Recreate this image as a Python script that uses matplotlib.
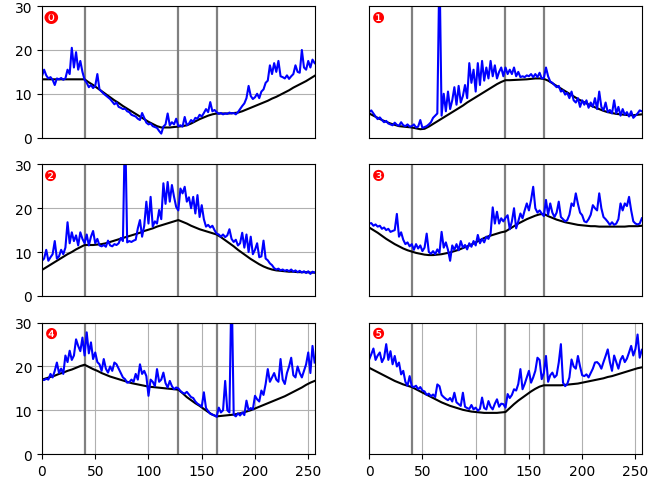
import matplotlib.pyplot as plt
import numpy as np

# sample positions: measured series every 2 steps, reference curves every 4
x_meas = np.arange(0, 257, 2)
x_ref = np.arange(0, 257, 4)

meas_0 = [14.0, 15.5, 14.2, 13.5, 13.8, 13.2, 12.0, 13.5, 13.3, 13.6,
          13.2, 13.5, 15.5, 14.5, 20.5, 16.0, 19.5, 15.5, 17.5, 15.0,
          13.2, 12.5, 11.5, 12.0, 11.3, 11.8, 14.5, 11.0, 10.5, 10.0,
          9.6, 9.2, 8.8, 8.2, 7.6, 8.0, 7.0, 6.8, 6.5, 6.6,
          6.0, 5.8, 5.2, 5.0, 4.8, 4.3, 4.0, 5.6, 4.5, 3.4,
          3.0, 3.2, 2.6, 2.4, 2.2, 1.5, 0.9, 2.5, 3.0, 5.5,
          2.8, 3.5, 3.0, 4.3, 2.6, 2.8, 2.5, 4.7, 2.8, 3.2,
          4.0, 3.6, 4.5, 4.3, 5.2, 4.8, 5.6, 6.5, 5.8, 8.1,
          6.0, 6.3, 5.8, 5.4, 5.6, 5.3, 5.5, 5.4, 5.7, 5.5,
          5.6, 5.3, 5.8, 6.5, 7.2, 7.8, 9.0, 11.8, 9.5, 8.8,
          9.2, 10.0, 9.0, 10.5, 11.0, 12.5, 13.0, 16.5, 14.5, 17.0,
          15.0, 17.5, 14.0, 13.8, 13.5, 14.2, 13.4, 14.0, 14.5, 16.5,
          15.0, 14.8, 20.0, 16.0, 15.5, 17.5, 16.0, 17.8, 17.0]
ref_0 = [13.3, 13.3, 13.3, 13.3, 13.3, 13.3, 13.3, 13.3, 13.3, 13.3,
         13.3, 12.6, 12.0, 11.3, 10.6, 9.9, 9.2, 8.5, 7.9, 7.2,
         6.6, 6.0, 5.4, 4.8, 4.2, 3.6, 3.1, 2.6, 2.3, 2.3,
         2.3, 2.4, 2.5, 2.6, 2.8, 3.2, 3.7, 4.2, 4.6, 5.0,
         5.3, 5.5, 5.5, 5.5, 5.5, 5.6, 5.7, 6.0, 6.4, 6.8,
         7.2, 7.6, 8.0, 8.4, 8.9, 9.3, 9.8, 10.3, 10.8, 11.4,
         11.9, 12.4, 12.9, 13.5, 14.1]

meas_1 = [5.8, 6.2, 5.5, 4.8, 4.2, 4.6, 4.0, 3.5, 3.8, 3.2,
          3.0, 2.8, 3.4, 2.9, 2.7, 3.5, 2.8, 2.6, 3.0, 2.5,
          2.6, 3.0, 2.3, 2.5, 4.0, 2.2, 2.4, 2.6, 3.0, 3.5,
          4.5, 5.0, 5.5, 40.0, 5.0, 10.0, 6.0, 10.5, 6.5, 8.5,
          11.5, 7.5, 11.8, 8.0, 9.5, 12.0, 9.0, 17.0, 12.5, 15.5,
          10.5, 17.0, 12.0, 17.5, 13.0, 16.0, 13.5, 17.5, 14.0, 16.5,
          13.5, 15.0, 16.0, 14.0, 16.0, 14.5, 15.5, 14.5, 16.0, 14.0,
          15.0, 13.8, 14.0, 13.8, 14.2, 14.0, 14.5, 13.8, 14.5, 13.8,
          14.8, 13.5, 13.6, 16.0, 14.0, 12.8, 12.5, 12.0, 11.5, 11.8,
          10.5, 10.8, 9.8, 10.2, 9.0, 10.5, 8.5, 8.0, 9.0, 7.0,
          8.5, 7.5, 8.5, 6.8, 8.0, 7.0, 9.0, 6.5, 10.5, 7.0,
          6.2, 8.0, 5.8, 6.3, 5.5, 8.5, 5.5, 7.0, 5.0, 6.5,
          5.2, 5.8, 4.8, 6.0, 4.5, 5.0, 5.5, 6.2, 6.0]
ref_1 = [5.5, 5.0, 4.5, 4.0, 3.6, 3.2, 2.9, 2.6, 2.5, 2.4,
         2.3, 2.1, 1.9, 2.0, 2.5, 3.1, 3.7, 4.3, 4.9, 5.5,
         6.1, 6.7, 7.3, 8.0, 8.6, 9.2, 9.8, 10.4, 11.0, 11.6,
         12.2, 12.7, 13.1, 13.1, 13.15, 13.2, 13.25, 13.3, 13.4, 13.5,
         13.5, 13.4, 13.0, 12.4, 11.8, 11.2, 10.6, 10.0, 9.4, 8.8,
         8.3, 7.8, 7.3, 6.9, 6.5, 6.1, 5.8, 5.6, 5.4, 5.3,
         5.2, 5.1, 5.1, 5.2, 5.3]

meas_2 = [8.0, 8.5, 10.5, 8.0, 8.8, 9.5, 12.5, 8.5, 9.0, 10.5,
          9.5, 11.0, 16.8, 12.0, 14.5, 12.5, 13.8, 11.5, 14.5, 13.0,
          12.0, 14.0, 11.5, 13.5, 14.8, 12.0, 13.0, 11.5, 11.3, 11.6,
          11.2, 12.6, 11.5, 11.3, 11.8, 11.6, 12.0, 13.2, 12.5, 40.0,
          12.2, 12.5, 12.3, 12.6, 12.8, 15.4, 17.3, 13.5, 16.0, 21.5,
          16.5, 22.6, 15.8, 17.0, 16.5, 19.6, 17.5, 25.7, 21.0, 26.0,
          21.5, 25.3, 22.6, 20.3, 19.5, 24.5, 23.4, 24.9, 21.5, 22.5,
          20.0, 22.6, 18.8, 23.0, 18.0, 20.7, 17.5, 15.8, 16.2, 15.6,
          16.0, 15.0, 14.2, 14.0, 13.5, 14.0, 13.4, 13.8, 15.2, 13.0,
          12.3, 12.8, 11.5, 12.0, 14.4, 11.0, 14.0, 10.0, 13.5, 9.5,
          10.5, 12.0, 8.8, 9.0, 12.6, 8.5, 8.1, 7.4, 7.0, 6.3,
          6.0, 6.2, 5.8, 6.0, 5.7, 5.9, 5.6, 6.0, 5.5, 5.8,
          5.4, 5.7, 5.3, 5.6, 5.2, 5.6, 5.0, 5.5, 5.3]
ref_2 = [5.9, 6.5, 7.1, 7.7, 8.3, 8.9, 9.5, 10.0, 10.6, 11.1,
         11.6, 11.6, 11.6, 11.7, 11.8, 12.0, 12.3, 12.6, 12.9, 13.2,
         13.5, 13.8, 14.1, 14.4, 14.8, 15.1, 15.4, 15.8, 16.1, 16.4,
         16.7, 17.0, 17.3, 16.9, 16.5, 16.0, 15.6, 15.2, 14.9, 14.6,
         14.3, 14.0, 13.4, 12.7, 12.0, 11.3, 10.5, 9.8, 9.1, 8.4,
         7.8, 7.2, 6.7, 6.3, 6.0, 5.8, 5.7, 5.6, 5.5, 5.5,
         5.4, 5.4, 5.4, 5.3, 5.3]

meas_3 = [16.5, 16.6, 16.0, 16.3, 15.8, 16.0, 15.3, 15.6, 15.0, 15.3,
          14.6, 14.8, 15.0, 18.7, 13.5, 14.5, 12.8, 11.8, 12.2, 11.3,
          11.8, 10.5, 11.8, 10.8, 11.5, 10.2, 11.0, 14.2, 10.0, 9.6,
          10.2, 9.5, 10.6, 9.8, 14.6, 11.0, 12.2, 10.5, 8.0, 11.5,
          10.5, 11.8, 10.4, 12.5, 11.0, 11.6, 10.6, 12.0, 11.2, 12.5,
          11.5, 13.9, 12.0, 13.0, 12.2, 13.5, 13.0, 14.2, 20.2, 16.5,
          19.2, 16.5, 17.7, 17.0, 17.8, 18.4, 15.2, 17.0, 20.0, 15.4,
          17.0, 18.8, 17.7, 19.5, 21.1, 19.5, 21.9, 24.9, 20.0, 19.0,
          19.5, 18.8, 18.2, 21.9, 18.5, 21.1, 19.0, 18.0, 19.0, 21.5,
          18.0, 17.5, 17.0, 17.3, 18.5, 21.1, 20.5, 23.4, 21.0, 19.0,
          18.4, 17.0, 16.8, 17.5, 18.5, 20.7, 20.0, 19.5, 23.4, 20.0,
          18.0, 17.5, 16.9, 16.2, 16.8, 16.2, 16.5, 17.5, 21.1, 19.5,
          21.1, 20.5, 22.6, 19.5, 17.0, 16.5, 16.3, 16.5, 17.7]
ref_3 = [15.6, 15.0, 14.4, 13.7, 13.0, 12.4, 11.8, 11.3, 10.8, 10.4,
         10.1, 9.8, 9.6, 9.4, 9.3, 9.3, 9.4, 9.5, 9.7, 9.9,
         10.2, 10.5, 10.9, 11.3, 11.7, 12.2, 12.7, 13.2, 13.6, 13.9,
         14.2, 14.5, 14.7, 15.3, 15.9, 16.5, 17.0, 17.5, 17.9, 18.3,
         18.6, 18.7, 18.2, 17.8, 17.4, 17.1, 16.8, 16.6, 16.4, 16.2,
         16.1, 16.0, 15.9, 15.9, 15.8, 15.8, 15.8, 15.8, 15.8, 15.8,
         15.8, 15.9, 15.9, 15.9, 16.0]

meas_4 = [17.0, 16.9, 17.2, 17.0, 18.3, 17.5, 19.0, 20.9, 18.5, 19.5,
          18.3, 22.5, 21.0, 23.6, 21.5, 22.5, 26.2, 24.7, 23.5, 26.6,
          22.5, 27.8, 23.0, 25.5, 21.7, 23.2, 21.0, 20.5, 19.0, 21.7,
          19.5, 18.6, 20.0, 19.0, 20.9, 20.5, 19.5, 18.5, 17.5, 17.1,
          16.3, 16.4, 17.0, 16.5, 18.3, 17.0, 20.5, 18.3, 19.0, 17.8,
          13.3, 17.0, 16.5, 15.5, 19.4, 16.5, 17.0, 18.6, 16.2, 15.2,
          16.7, 15.5, 14.8, 15.2, 15.0, 14.4, 14.0, 13.8, 14.2, 13.6,
          13.0, 12.8, 12.0, 11.5, 11.2, 10.8, 14.1, 10.5, 9.8, 9.2,
          9.0, 8.8, 8.5, 10.6, 9.5, 10.0, 16.7, 10.0, 9.5, 40.0,
          9.0, 8.6, 9.3, 8.8, 9.5, 8.9, 12.2, 10.0, 10.5, 10.2,
          13.3, 12.5, 12.0, 14.5, 13.5, 16.0, 19.4, 16.5, 17.5, 18.5,
          17.0, 16.5, 21.7, 17.0, 16.0, 18.5, 20.0, 22.0, 18.0, 17.5,
          20.0, 18.5, 17.5, 19.0, 20.5, 23.2, 18.5, 24.7, 20.9]
ref_4 = [17.0, 17.3, 17.6, 17.9, 18.3, 18.6, 19.0, 19.3, 19.7, 20.1,
         20.4, 19.9, 19.4, 19.0, 18.5, 18.1, 17.7, 17.4, 17.1, 16.8,
         16.5, 16.2, 16.0, 15.8, 15.6, 15.4, 15.3, 15.2, 15.1, 15.0,
         14.9, 14.8, 14.7, 13.9, 13.0, 12.3, 11.6, 11.0, 10.3, 9.6,
         9.0, 8.6, 8.7, 8.8, 8.9, 9.0, 9.2, 9.4, 9.7, 10.0,
         10.4, 10.8, 11.2, 11.6, 12.0, 12.4, 12.8, 13.2, 13.7, 14.2,
         14.7, 15.2, 15.8, 16.3, 16.7]

meas_5 = [21.6, 22.8, 24.1, 21.5, 22.5, 23.2, 21.0, 22.0, 25.1, 21.5,
          23.5, 20.5, 22.4, 20.0, 20.9, 18.2, 19.0, 16.5, 15.6, 17.8,
          15.5, 15.3, 15.6, 14.8, 15.3, 14.5, 14.3, 13.5, 13.8, 13.2,
          13.6, 13.0, 15.9, 15.5, 13.5, 13.0, 12.6, 12.3, 12.8, 12.0,
          14.0, 11.8, 11.4, 11.0, 14.0, 10.8, 10.5, 10.3, 11.2, 10.2,
          10.6, 9.9, 10.3, 12.9, 10.5, 10.2, 12.1, 10.8, 10.2, 11.5,
          12.5, 10.8, 11.5, 11.4, 10.6, 13.7, 12.8, 13.5, 14.8, 14.5,
          16.0, 19.4, 14.8, 16.0, 17.5, 19.0, 16.3, 17.5, 19.0, 22.0,
          21.5, 17.1, 18.5, 22.4, 16.5, 18.0, 18.6, 17.5, 18.0, 20.9,
          25.1, 16.3, 15.5, 16.0, 17.5, 21.6, 20.0, 19.5, 22.4, 20.0,
          18.0, 17.8, 18.2, 17.5, 18.5, 19.5, 20.9, 21.0, 20.5, 19.5,
          21.0, 22.4, 23.9, 21.0, 19.0, 22.5, 21.0, 19.5, 21.5, 22.4,
          21.0, 21.8, 23.2, 24.7, 22.5, 24.0, 27.3, 22.0, 23.8]
ref_5 = [19.7, 19.2, 18.7, 18.2, 17.7, 17.2, 16.7, 16.3, 15.9, 15.6,
         15.3, 14.8, 14.3, 13.8, 13.3, 12.8, 12.3, 11.8, 11.4, 11.0,
         10.7, 10.4, 10.1, 9.9, 9.7, 9.6, 9.5, 9.4, 9.4, 9.4,
         9.4, 9.5, 9.6, 10.5, 11.4, 12.2, 12.9, 13.6, 14.3, 14.9,
         15.4, 15.7, 15.7, 15.7, 15.7, 15.7, 15.8, 15.9, 16.0, 16.1,
         16.3, 16.5, 16.7, 16.9, 17.1, 17.3, 17.6, 17.8, 18.1, 18.4,
         18.7, 19.0, 19.3, 19.6, 19.8]

measured = [meas_0, meas_1, meas_2, meas_3, meas_4, meas_5]
reference = [ref_0, ref_1, ref_2, ref_3, ref_4, ref_5]
labels = ['\u24ff', '\u2776', '\u2777', '\u2778', '\u2779', '\u277a']
breaks = [40, 128, 164]

fig, axes = plt.subplots(3, 2, figsize=(6.61, 4.81), dpi=100)
plt.subplots_adjust(left=0.0635, right=0.971, bottom=0.054, top=0.985,
                    wspace=0.2, hspace=0.205)

for i, ax in enumerate(axes.flat):
    row, col = divmod(i, 2)
    for b in breaks:
        ax.axvline(b, color='gray', lw=1.6)
    ax.plot(x_ref, reference[i], color='black', lw=1.5)
    ax.plot(x_meas, measured[i], color='blue', lw=1.5)
    ax.set_xlim(0, 256)
    ax.set_ylim(0, 30)
    if col == 1:
        ax.set_yticks([])
    else:
        ax.set_yticks([0, 10, 20, 30])
    if row < 2:
        ax.set_xticks([])
    ax.grid(True)
    ax.text(0.033, 0.915, labels[i], color='red', fontsize=10.5,
            ha='center', va='center', transform=ax.transAxes,
            family=['DejaVu Sans', 'Noto Sans CJK SC'])

plt.savefig('out.png')
